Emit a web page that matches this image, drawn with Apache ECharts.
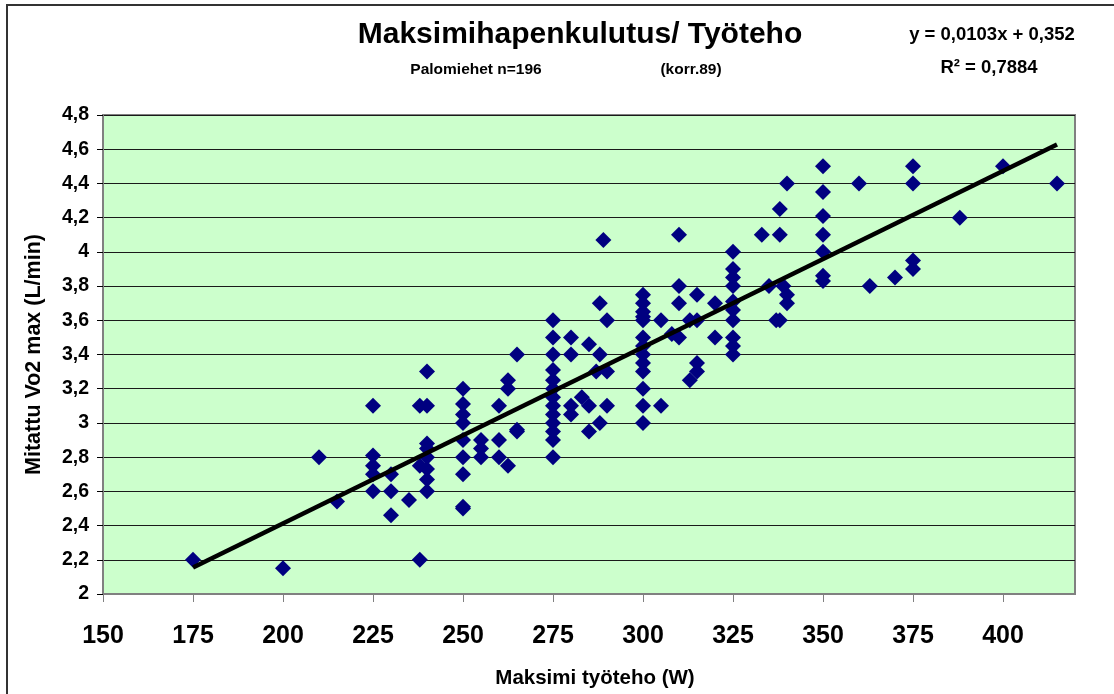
<!DOCTYPE html>
<html>
<head>
<meta charset="utf-8">
<script src="https://cdn.jsdelivr.net/npm/echarts@6/dist/echarts.min.js"></script>
<style>
html,body{margin:0;padding:0;background:#fff;}
#chart{width:1114px;height:694px;}
</style>
</head>
<body>
<div id="chart"></div>
<script>
const power = [
  175, 200, 210, 215,
  225, 225, 225, 225, 225,
  230, 230, 230,
  235,
  238, 238, 238,
  240, 240, 240, 240, 240, 240, 240, 240,
  250, 250, 250, 250, 250, 250, 250, 250, 250,
  255, 255, 255,
  260, 260, 260,
  262.5, 262.5, 262.5,
  265, 265, 265,
  275, 275, 275, 275, 275, 275, 275, 275, 275, 275, 275, 275, 275,
  280, 280, 280, 280,
  283,
  285, 285, 285,
  287,
  288, 288, 288,
  289,
  290, 290, 290,
  300, 300, 300, 300, 300, 300, 300, 300, 300, 300, 300, 300, 300,
  305, 305,
  308,
  310, 310, 310, 310,
  313, 313,
  315, 315, 315, 315,
  320, 320,
  325, 325, 325, 325, 325, 325, 325, 325, 325, 325,
  333, 335, 337,
  338, 338, 338,
  339,
  340, 340, 340,
  350, 350, 350, 350, 350, 350, 350,
  360, 363, 370,
  375, 375, 375, 375,
  388, 400, 415
];
const vo2 = [
  2.2, 2.15, 2.8, 2.54,
  3.1, 2.81, 2.75, 2.7, 2.6,
  2.7, 2.6, 2.46,
  2.55,
  3.1, 2.75, 2.2,
  3.3, 3.1, 2.88, 2.85, 2.8, 2.73, 2.67, 2.6,
  3.2, 3.11, 3.05, 3.0, 2.9, 2.8, 2.7, 2.51, 2.5,
  2.9, 2.85, 2.8,
  3.1, 2.9, 2.8,
  3.25, 3.2, 2.75,
  3.4, 2.96, 2.95,
  3.6, 3.5, 3.4, 3.31, 3.25, 3.2, 3.15, 3.1, 3.05, 3.0, 2.95, 2.9, 2.8,
  3.5, 3.4, 3.1, 3.05,
  3.15,
  3.46, 3.1, 2.95,
  3.3,
  3.7, 3.4, 3.0,
  4.07,
  3.6, 3.3, 3.1,
  3.75, 3.7, 3.65, 3.62, 3.6, 3.5, 3.45, 3.4, 3.35, 3.3, 3.2, 3.1, 3.0,
  3.6, 3.1,
  3.52,
  4.1, 3.8, 3.7, 3.5,
  3.6, 3.25,
  3.75, 3.6, 3.35, 3.3,
  3.7, 3.5,
  4.0, 3.9, 3.85, 3.8, 3.71, 3.66, 3.6, 3.5, 3.45, 3.4,
  4.1, 3.8, 3.6,
  4.25, 4.1, 3.6,
  3.8,
  4.4, 3.75, 3.7,
  4.5, 4.35, 4.21, 4.1, 4.0, 3.86, 3.83,
  4.4, 3.8, 3.85,
  4.5, 4.4, 3.95, 3.9,
  4.2, 4.5, 4.4
];
// Trend line end points (y = 0,0103x + 0,352)
const trendX = [175, 415];
const trendY = [2.155, 4.627];
// Tick labels
const xTicks = [150, 175, 200, 225, 250, 275, 300, 325, 350, 375, 400];
const yTicks = [2, 2.2, 2.4, 2.6, 2.8, 3, 3.2, 3.4, 3.6, 3.8, 4, 4.2, 4.4, 4.6, 4.8];

const FONT = "'Liberation Sans', Arial, sans-serif";
const points = power.map((p, i) => [p, vo2[i]]);
const trend = trendX.map((x, i) => [x, trendY[i]]);

const chart = echarts.init(document.getElementById('chart'));
chart.setOption({
  animation: false,
  backgroundColor: '#ffffff',
  grid: {
    left: 103, top: 115, width: 972, height: 480,
    show: true, backgroundColor: '#CCFFCC', borderColor: '#808080', borderWidth: 2
  },
  xAxis: {
    type: 'value', min: 150, max: 420, interval: 25,
    name: 'Maksimi työteho (W)', nameLocation: 'middle', nameGap: 74,
    nameTextStyle: { fontFamily: FONT, fontWeight: 'bold', fontSize: 20.5, color: '#000', padding: [0, 0, 0, 12] },
    axisLine: { show: true, lineStyle: { color: '#808080', width: 2 } },
    axisTick: { show: true, length: 8, inside: false, customValues: xTicks, lineStyle: { color: '#808080', width: 1 } },
    axisLabel: { customValues: xTicks, margin: 30, fontFamily: FONT, fontWeight: 'bold', fontSize: 25, color: '#000' },
    splitLine: { show: false }
  },
  yAxis: {
    type: 'value', min: 2, max: 4.8, interval: 0.2,
    name: 'Mitattu Vo2 max (L/min)', nameLocation: 'middle', nameGap: 58, nameRotate: 90,
    nameTextStyle: { fontFamily: FONT, fontWeight: 'bold', fontSize: 21.5, color: '#000' },
    axisLine: { show: true, lineStyle: { color: '#808080', width: 2 } },
    axisTick: { show: true, length: 6, inside: false, customValues: yTicks, lineStyle: { color: '#000', width: 1 } },
    axisLabel: {
      customValues: yTicks, margin: 14, fontFamily: FONT, fontWeight: 'bold', fontSize: 19.5, color: '#000',
      formatter: v => String(Math.round(v * 10) / 10).replace('.', ',')
    },
    splitLine: { show: true, lineStyle: { color: '#1a1a1a', width: 1 } }
  },
  series: [
    {
      type: 'scatter', data: points, symbol: 'diamond', symbolSize: 16,
      itemStyle: { color: '#000080', opacity: 1 }, z: 3
    },
    {
      type: 'line', data: trend, symbol: 'none',
      lineStyle: { color: '#000000', width: 4.5 }, z: 4
    }
  ],
  graphic: [
    { type: 'rect', shape: { x: 7, y: 5, width: 1130, height: 720 }, style: { fill: 'none', stroke: '#333', lineWidth: 2 }, silent: true, z: -1 },
    { type: 'text', x: 580, y: 35, style: { text: 'Maksimihapenkulutus/ Työteho', fontFamily: FONT, fontWeight: 'bold', fontSize: 30, fill: '#000', align: 'center', verticalAlign: 'middle' } },
    { type: 'text', x: 476, y: 70, style: { text: 'Palomiehet n=196', fontFamily: FONT, fontWeight: 'bold', fontSize: 15.5, fill: '#000', align: 'center', verticalAlign: 'middle' } },
    { type: 'text', x: 691, y: 70, style: { text: '(korr.89)', fontFamily: FONT, fontWeight: 'bold', fontSize: 15.5, fill: '#000', align: 'center', verticalAlign: 'middle' } },
    { type: 'text', x: 992, y: 35, style: { text: 'y = 0,0103x + 0,352', fontFamily: FONT, fontWeight: 'bold', fontSize: 18.5, fill: '#000', align: 'center', verticalAlign: 'middle' } },
    { type: 'text', x: 989, y: 68, style: { text: 'R² = 0,7884', fontFamily: FONT, fontWeight: 'bold', fontSize: 18.5, fill: '#000', align: 'center', verticalAlign: 'middle' } }
  ]
});
</script>
</body>
</html>
